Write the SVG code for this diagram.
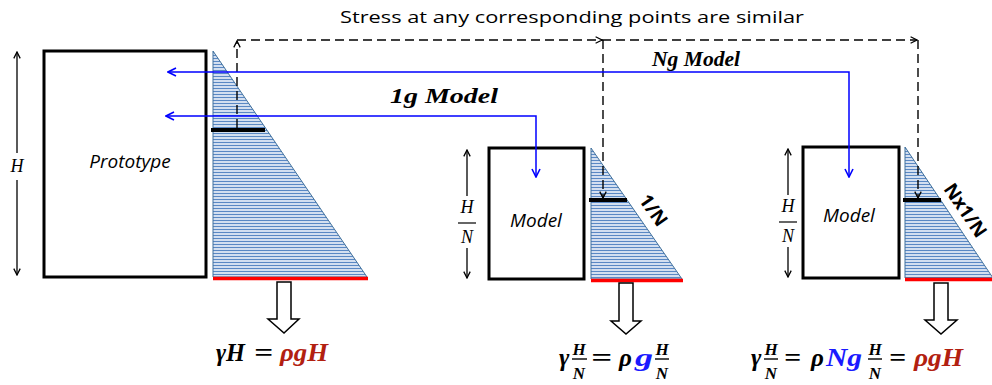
<svg xmlns="http://www.w3.org/2000/svg" width="992" height="385" viewBox="0 0 992 385">
<style>
.box{fill:#fff;stroke:#000;stroke-width:3}
.tri{fill:url(#hatch);stroke:#41719c;stroke-width:1}
.red{stroke:#ff0000;stroke-width:3.5}
.bar{stroke:#000;stroke-width:4}
.dash{fill:none;stroke:#000;stroke-width:1.4;stroke-dasharray:9 5}
.blue{fill:none;stroke:#0000ff;stroke-width:1.5}
.dim{stroke:#000;stroke-width:1.3}
.hollow{fill:#fff;stroke:#000;stroke-width:1.5}
.lbl{font-family:"Open Sans","Liberation Sans",sans-serif;font-style:italic;font-size:19px;fill:#000}
.mt{font-family:"Liberation Serif",serif;font-style:italic;font-size:18px;fill:#000}
.bi{font-family:"Liberation Serif",serif;font-style:italic;font-weight:bold;fill:#000}
.rot{font-family:"Open Sans","Liberation Sans",sans-serif;font-weight:bold;font-size:19px;fill:#000}
.eq{font-family:"Liberation Serif",serif;font-style:italic;font-weight:bold;font-size:25px}
.fr{font-family:"Liberation Serif",serif;font-style:italic;font-weight:bold;font-size:17px;fill:#000}
</style>
<defs>
<pattern id="hatch" patternUnits="userSpaceOnUse" width="10" height="3">
<rect width="10" height="3" fill="#e0e9f5"/>
<line x1="0" y1="1.5" x2="10" y2="1.5" stroke="#5a88c4" stroke-width="1.2"/>
</pattern>
<marker id="ak" viewBox="0 0 10 10" refX="9" refY="5" markerWidth="8" markerHeight="8" markerUnits="userSpaceOnUse" orient="auto-start-reverse">
<path d="M1,1 L9,5 L1,9" fill="none" stroke="#000" stroke-width="1.6"/>
</marker>
<marker id="ab" viewBox="0 0 10 10" refX="9" refY="5" markerWidth="10" markerHeight="10" markerUnits="userSpaceOnUse" orient="auto-start-reverse">
<path d="M1,1 L9,5 L1,9" fill="none" stroke="#0000ff" stroke-width="1.6"/>
</marker>
</defs>

<text x="572" y="23" text-anchor="middle" font-family="Open Sans, Liberation Sans, sans-serif" font-size="17" fill="#000" textLength="464" lengthAdjust="spacingAndGlyphs">Stress at any corresponding points are similar</text>

<g id="prototype">
<rect class="box" x="44" y="51" width="162" height="226"/>
<text class="lbl" x="130" y="168" text-anchor="middle">Prototype</text>
<line class="dim" x1="17" y1="153" x2="17" y2="52" marker-end="url(#ak)"/>
<line class="dim" x1="17" y1="180" x2="17" y2="275" marker-end="url(#ak)"/>
<text class="mt" x="17" y="172" text-anchor="middle">H</text>
<polygon class="tri" points="213,51 213,277 367,277"/>
<line class="red" x1="213" y1="278.5" x2="368" y2="278.5"/>
<line class="bar" x1="211" y1="130" x2="265" y2="130"/>
<path class="hollow" d="M277,282 H291 V319 H299 L284,333 L268,319 H277 Z"/>
<text class="eq" x="216" y="361" fill="#000" textLength="29" lengthAdjust="spacingAndGlyphs">γH</text>
<text class="eq" x="254" y="361" fill="#000" textLength="19" lengthAdjust="spacingAndGlyphs">=</text>
<text class="eq" x="280" y="361" fill="#b22010" textLength="48" lengthAdjust="spacingAndGlyphs">ρgH</text>
</g>

<g id="model-1g">
<rect class="box" x="489" y="148" width="95" height="131"/>
<text class="lbl" x="536" y="227" text-anchor="middle">Model</text>
<line class="dim" x1="467" y1="196" x2="467" y2="150" marker-end="url(#ak)"/>
<line class="dim" x1="467" y1="248" x2="467" y2="278" marker-end="url(#ak)"/>
<text class="mt" x="467" y="213" text-anchor="middle" font-size="17">H</text>
<line x1="458" y1="223" x2="476" y2="223" stroke="#000" stroke-width="1.2"/>
<text class="mt" x="467" y="243" text-anchor="middle" font-size="17">N</text>
<polygon class="tri" points="591,148 591,279 682,279"/>
<line class="red" x1="591" y1="280.5" x2="683" y2="280.5"/>
<line class="bar" x1="589" y1="200" x2="627" y2="200"/>
<text class="rot" x="0" y="0" text-anchor="middle" transform="translate(648,214) rotate(55)">1/N</text>
<path class="hollow" d="M619,283 H633 V321 H641 L626,334 L611,321 H619 Z"/>
<text class="eq" x="559" y="366" fill="#000">γ</text>
<text class="fr" x="579" y="355" text-anchor="middle">H</text>
<line x1="572" y1="359" x2="587" y2="359" stroke="#000" stroke-width="1.4"/>
<text class="fr" x="579" y="379" text-anchor="middle">N</text>
<text class="eq" x="591" y="366" fill="#000" textLength="21" lengthAdjust="spacingAndGlyphs">=</text>
<text class="eq" x="619" y="366" fill="#000">ρ</text>
<text class="eq" x="635" y="366" fill="#1a1aff" textLength="18" lengthAdjust="spacingAndGlyphs">g</text>
<text class="fr" x="662" y="355" text-anchor="middle">H</text>
<line x1="655" y1="359" x2="669" y2="359" stroke="#000" stroke-width="1.4"/>
<text class="fr" x="662" y="379" text-anchor="middle">N</text>
</g>

<g id="model-ng">
<rect class="box" x="803" y="147" width="96" height="131"/>
<text class="lbl" x="849" y="222" text-anchor="middle">Model</text>
<line class="dim" x1="788" y1="195" x2="788" y2="149" marker-end="url(#ak)"/>
<line class="dim" x1="788" y1="247" x2="788" y2="277" marker-end="url(#ak)"/>
<text class="mt" x="788" y="212" text-anchor="middle" font-size="17">H</text>
<line x1="779" y1="222" x2="797" y2="222" stroke="#000" stroke-width="1.2"/>
<text class="mt" x="788" y="242" text-anchor="middle" font-size="17">N</text>
<polygon class="tri" points="905,147 905,278 993,278"/>
<line class="red" x1="905" y1="279.5" x2="992" y2="279.5"/>
<line class="bar" x1="903" y1="200" x2="941" y2="200"/>
<text class="rot" x="0" y="0" text-anchor="middle" font-size="18" transform="translate(960,214) rotate(56)">Nx1/N</text>
<path class="hollow" d="M934,283 H948 V320 H957 L941,334 L925,320 H934 Z"/>
<text class="eq" x="751" y="366" fill="#000">γ</text>
<text class="fr" x="771" y="355" text-anchor="middle">H</text>
<line x1="764" y1="359" x2="778" y2="359" stroke="#000" stroke-width="1.4"/>
<text class="fr" x="771" y="379" text-anchor="middle">N</text>
<text class="eq" x="784" y="366" fill="#000" textLength="17" lengthAdjust="spacingAndGlyphs">=</text>
<text class="eq" x="811" y="366" fill="#000">ρ</text>
<text class="eq" x="826" y="366" fill="#1a1aff" textLength="36" lengthAdjust="spacingAndGlyphs">Ng</text>
<text class="fr" x="875" y="355" text-anchor="middle">H</text>
<line x1="868" y1="359" x2="882" y2="359" stroke="#000" stroke-width="1.4"/>
<text class="fr" x="875" y="379" text-anchor="middle">N</text>
<text class="eq" x="889" y="366" fill="#000" textLength="17" lengthAdjust="spacingAndGlyphs">=</text>
<text class="eq" x="914" y="366" fill="#b22010" textLength="49" lengthAdjust="spacingAndGlyphs">ρgH</text>
</g>

<g id="connectors">
<path class="dash" d="M237,128 V41" marker-end="url(#ak)"/>
<path class="dash" d="M237,40 H602" marker-end="url(#ak)"/>
<path class="dash" d="M602,40 H917" marker-end="url(#ak)"/>
<path class="dash" d="M603,40 V198" marker-end="url(#ak)"/>
<path class="dash" d="M918,40 V198" marker-end="url(#ak)"/>
<path class="blue" d="M168,72 H849 V177" marker-start="url(#ab)" marker-end="url(#ab)"/>
<path class="blue" d="M166,116 H536 V177" marker-start="url(#ab)" marker-end="url(#ab)"/>
<text class="bi" x="390" y="103" font-size="22" textLength="108" lengthAdjust="spacingAndGlyphs">1g Model</text>
<text class="bi" x="652" y="66" font-size="20" textLength="88" lengthAdjust="spacingAndGlyphs">Ng Model</text>
</g>
</svg>
